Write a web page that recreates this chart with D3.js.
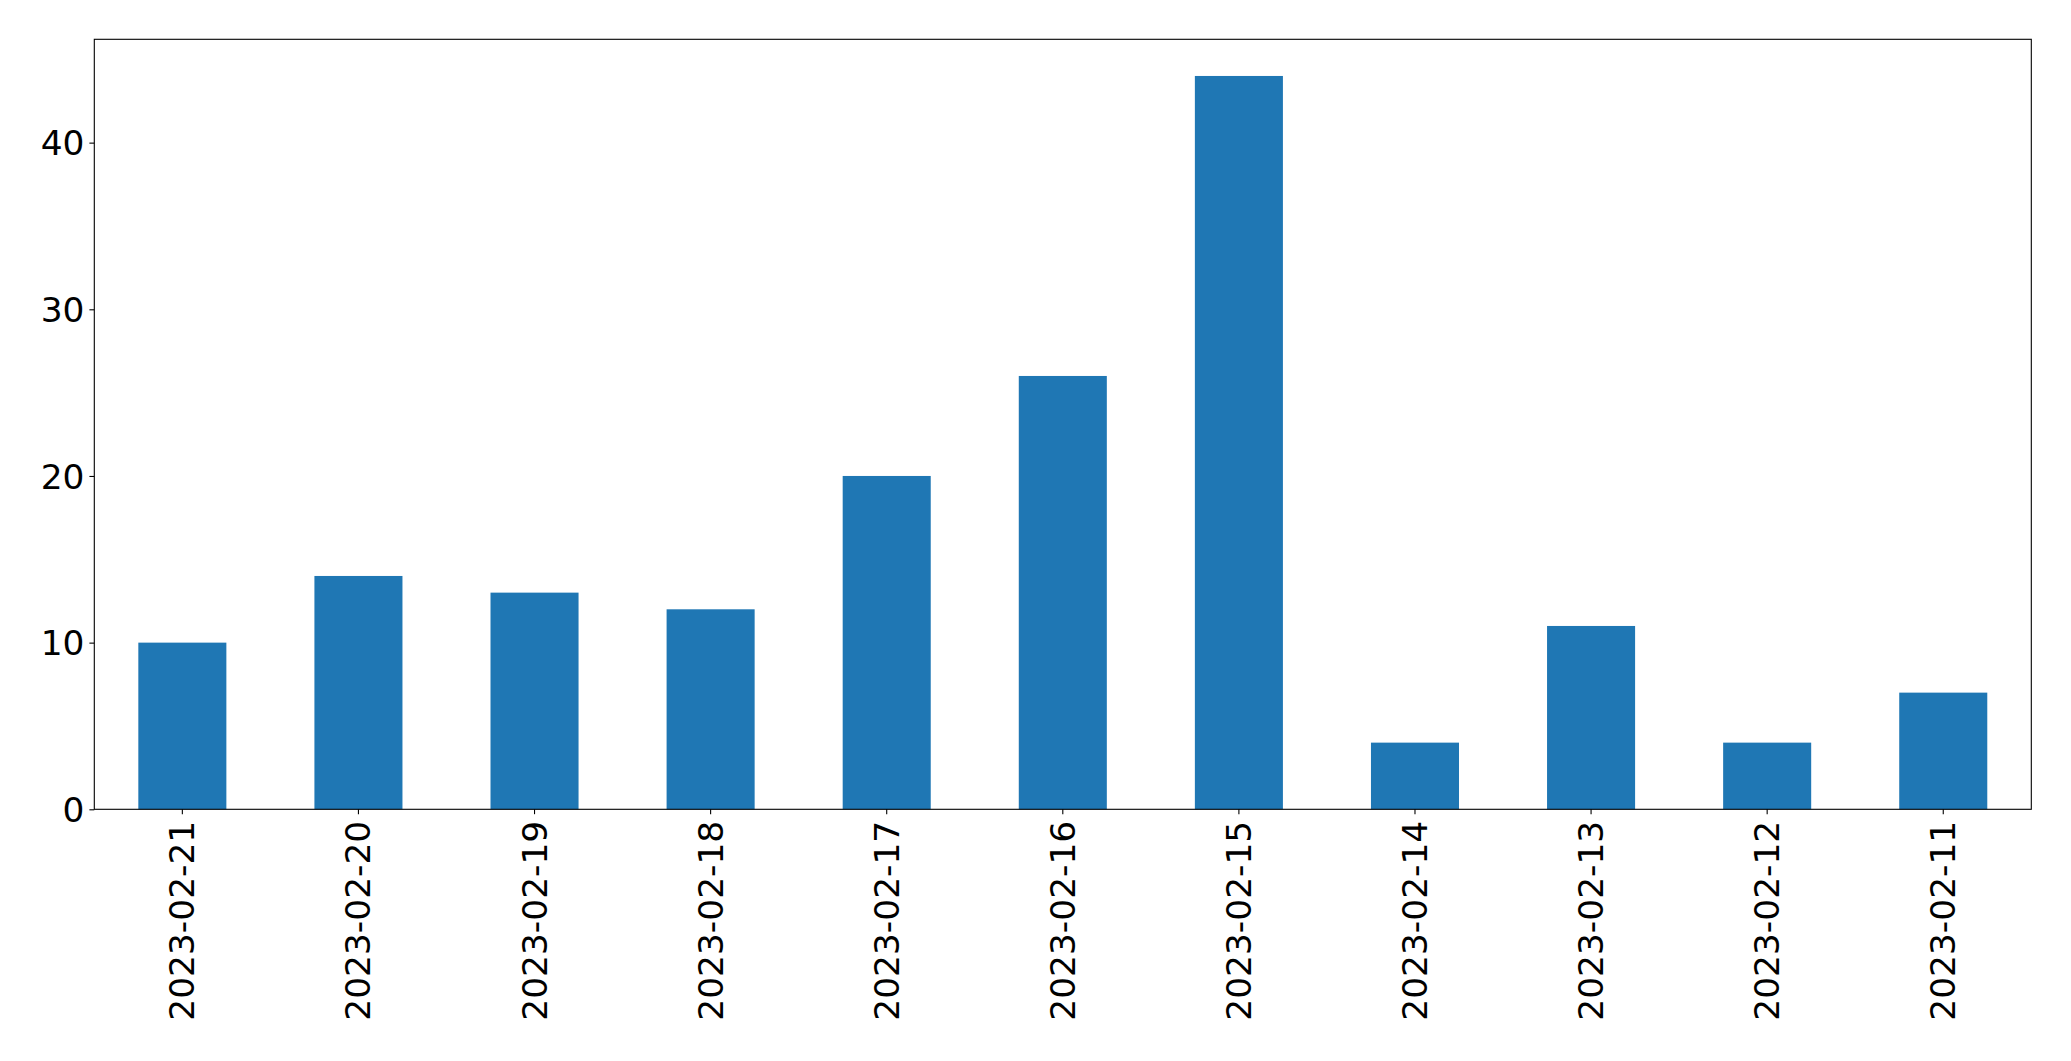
<!DOCTYPE html>
<html>
<head>
<meta charset="utf-8">
<script src="https://cdn.jsdelivr.net/npm/d3@7"></script>
<style>
  html, body { margin: 0; padding: 0; background: #fff; }
  svg { display: block; }
  text { font-family: "DejaVu Sans", sans-serif; fill: #000; }
</style>
</head>
<body>
<svg id="chart" width="2071" height="1061"></svg>
<script>
const categories = ["2023-02-21","2023-02-20","2023-02-19","2023-02-18","2023-02-17","2023-02-16","2023-02-15","2023-02-14","2023-02-13","2023-02-12","2023-02-11"];
const values = [10, 14, 13, 12, 20, 26, 44, 4, 11, 4, 7];
const yTicks = [0, 10, 20, 30, 40];

const W = 2071, H = 1061;
const m = { left: 94.3, right: W - 2031.3, top: 39.3, bottom: H - 809.3 };
const svg = d3.select("#chart");
const g = svg.append("g");

const x = d3.scaleBand().domain(categories).range([m.left, W - m.right]).paddingInner(0.5).paddingOuter(0.25);
const yMax = d3.max(values) * 1.05;
const y = d3.scaleLinear().domain([0, yMax]).range([H - m.bottom, m.top]);

g.selectAll("rect.bar").data(values).enter().append("rect")
  .attr("class", "bar")
  .attr("x", (d, i) => x(categories[i]))
  .attr("width", x.bandwidth())
  .attr("y", d => y(d))
  .attr("height", d => y(0) - y(d))
  .attr("fill", "#1f77b4");

const fs = 34.4;

const yAxis = g.append("g").attr("transform", `translate(${m.left},0)`)
  .call(d3.axisLeft(y).tickValues(yTicks).tickSize(4.9).tickPadding(4.9).tickFormat(d3.format("d")));
yAxis.select(".domain").remove();
yAxis.selectAll("line").attr("stroke", "#000").attr("stroke-width", 1.1);
yAxis.selectAll("text").style("font-size", fs + "px").attr("dy", "0.35em");

const xAxis = g.append("g").attr("transform", `translate(0,${H - m.bottom})`)
  .call(d3.axisBottom(x).tickSize(4.9).tickPadding(0));
xAxis.select(".domain").remove();
xAxis.selectAll("line").attr("stroke", "#000").attr("stroke-width", 1.1);
xAxis.selectAll("text")
  .style("font-size", fs + "px")
  .attr("text-anchor", "end")
  .attr("dy", "0.35em")
  .attr("transform", "translate(0,11.5) rotate(-90)")
  .attr("x", 0).attr("y", 0);

g.append("rect")
  .attr("x", m.left).attr("y", m.top)
  .attr("width", W - m.left - m.right).attr("height", H - m.top - m.bottom)
  .attr("fill", "none").attr("stroke", "#000").attr("stroke-width", 1.1);
</script>
</body>
</html>
